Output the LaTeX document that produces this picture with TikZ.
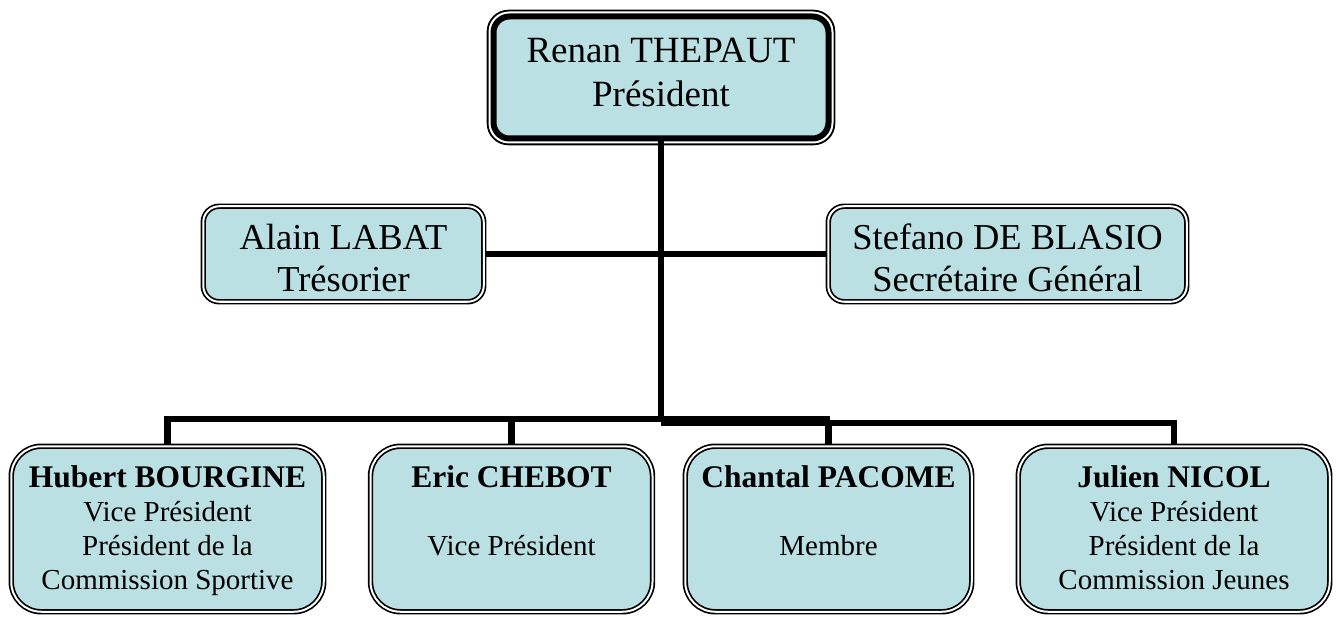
\documentclass[tikz,border=0pt]{standalone}
\usepackage{fontspec}
\setmainfont{Liberation Serif}
\usetikzlibrary{backgrounds}
\definecolor{boxfill}{RGB}{187,224,227}
\newcommand\btext[2]{\parbox[c][126pt][t]{282pt}{\centering\fontsize{31.5}{34}\selectfont\bfseries #1\par\fontsize{29}{34}\selectfont\mdseries #2\par}}
\begin{document}
\begin{tikzpicture}[x=1pt,y=-1pt,
  box/.style={draw, fill=boxfill, line width=1.7pt, double=white, double distance=2pt,
              rounded corners=#1, outer sep=0pt, inner sep=0pt},
  box/.default=30pt,
  midbox/.style={box=16pt, minimum height=95.5pt, align=center, font=\fontsize{36.5}{43}\selectfont,
              text height=76pt, text depth=0pt},
  lowbox/.style={box=30pt, minimum height=165.5pt},
  presbox/.style={draw, fill=boxfill, line width=6pt, rounded corners=16pt, outer sep=0pt,
              inner sep=0pt, align=center, font=\fontsize{37}{44}\selectfont,
              text depth=11pt, minimum width=335pt, minimum height=122pt},
  presrim/.style={draw, line width=1.8pt, rounded corners=21pt},
  conn/.style={line width=6.5pt}]
\useasboundingbox (0,0) rectangle (1337,617);

\node[presbox] (p) at (661,77.5) {Renan THEPAUT\\Président};
\draw[presrim] ([shift={(-5.9,-5.9)}]p.north west) rectangle ([shift={(5.9,5.9)}]p.south east);

\node[midbox, minimum width=280.5pt] (al) at (343.5,254) {Alain LABAT\\Trésorier};
\node[midbox, minimum width=358.5pt] (sb) at (1007.5,254) {Stefano DE BLASIO\\Secrétaire Général};

\node[lowbox, minimum width=312.5pt] (hb) at (167.5,529) {\btext{Hubert BOURGINE}{Vice Président\\Président de la\\Commission Sportive}};
\node[lowbox, minimum width=280.5pt] (eb) at (511.5,529) {\btext{Eric CHEBOT}{\mbox{}\\Vice Président}};
\node[lowbox, minimum width=286.5pt] (ch) at (828.5,529) {\btext{Chantal PACOME}{\mbox{}\\Membre}};
\node[lowbox, minimum width=311.5pt] (jn) at (1174,529) {\btext{Julien NICOL}{Vice Président\\Président de la\\Commission Jeunes}};

\begin{pgfonlayer}{background}
\coordinate (cl) at (830,419);
\coordinate (cr) at (661,423);
\draw[conn] (p.south) -- (p.south |- cl);
\draw[conn, line width=5.5pt] (al.east) -- (sb.west);
\draw[conn] (hb.north) |- (cl);
\draw[conn] (eb.north) -- (eb.north |- cl);
\draw[conn] (jn.north) |- (cr);
\draw[conn] (ch.north) -- (ch.north |- cr);
\end{pgfonlayer}
\end{tikzpicture}
\end{document}
